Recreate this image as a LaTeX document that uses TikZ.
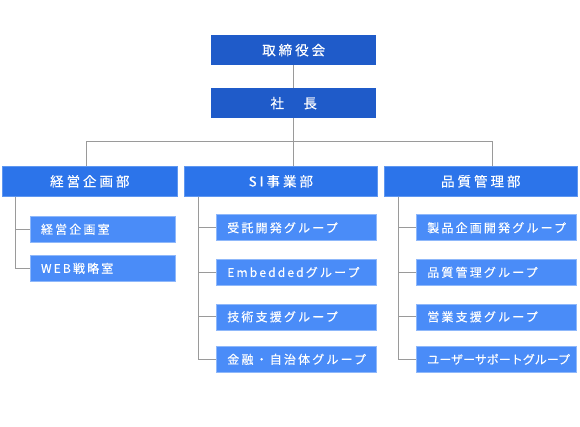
\documentclass[tikz,border=0pt]{standalone}
\usepackage{fontspec}
\usepackage{xcolor}
\usepackage{tikz}
\usetikzlibrary{calc,positioning}
\newfontfamily\jpwide{Noto Sans CJK JP}[LetterSpace=22,FakeBold=0.3]
\newfontfamily\jpnarrow{Noto Sans CJK JP}[LetterSpace=18,FakeBold=0.3]
\newfontfamily\jptight{Noto Sans CJK JP}[LetterSpace=0,FakeBold=0.3]
\definecolor{topblue}{HTML}{1F5BC9}
\definecolor{deptblue}{HTML}{2C74EA}
\definecolor{deptedge}{HTML}{5F97F0}
\definecolor{subblue}{HTML}{4A8CF8}
\definecolor{subedge}{HTML}{8FB8FA}
\definecolor{linegray}{HTML}{9A9A9A}

\begin{document}
\begin{tikzpicture}[x=1pt,y=-1pt,
    topbox/.style={fill=topblue,anchor=north west,minimum width=165pt,minimum height=30pt,
      inner sep=0pt,text=white,font=\jpwide\fontsize{13.5}{14}\selectfont},
    deptbox/.style={fill=deptblue,draw=deptedge,line width=0.6pt,anchor=north west,
      minimum width=#1,minimum height=30pt,inner sep=0pt,text=white,
      font=\jpwide\fontsize{13.5}{14}\selectfont},
    subbox/.style={fill=subblue,draw=subedge,line width=0.6pt,anchor=north west,
      text width=#1,minimum height=26pt,inner xsep=11pt,inner ysep=0pt,align=left,
      text=white,font=\jpnarrow\fontsize{12}{13}\selectfont},
    subbox/.default=138pt,
    conn/.style={draw=linegray,line width=1pt}]
  \useasboundingbox (0,0) rectangle (580,427);

  % top
  \node[topbox] (board) at (211,35) {取締役会};
  \node[topbox] (pres) at (211,88) {社　長};

  % departments
  \node[deptbox=175pt] (keiei) at (2,166) {経営企画部};
  \node[deptbox=193pt] (si) at (184,166) {SI事業部};
  \node[deptbox=193pt] (qa) at (384,166) {品質管理部};

  % groups
  \foreach \n/\y/\lab in {1/216/経営企画室, 2/255/WEB戦略室}
  { \node[subbox=123pt] (keiei\n) at (29.7,\y) {\lab}; }
  \foreach \n/\y/\lab in {1/214.5/受託開発グループ, 2/259/Embeddedグループ,
      3/303.5/技術支援グループ, 4/346/金融・自治体グループ}
  { \node[subbox] (si\n) at (216,\y) {\lab}; }
  \foreach \n/\y/\lab in {1/214.5/製品企画開発グループ, 2/259/品質管理グループ,
      3/303.5/営業支援グループ, 4/346/{\jptight ユーザーサポートグループ}}
  { \node[subbox] (qa\n) at (416,\y) {\lab}; }

  % connectors
  \coordinate (busA) at (86.3,141.7);
  \coordinate (busC) at (492.7,141.7);
  \draw[conn] (board) -- (pres);
  \draw[conn] (pres.south) -- (pres.south |- si.north);
  \draw[conn] (busA) -- (busC);
  \draw[conn] (busA) -- (busA |- keiei.north);
  \draw[conn] (busC) -- (busC |- qa.north);

  \coordinate (trunkA) at ([xshift=13.3pt]keiei.south west);
  \coordinate (trunkB) at ([xshift=14.7pt]si.south west);
  \coordinate (trunkC) at ([xshift=14.7pt]qa.south west);
  \foreach \n in {1,2}
  { \draw[conn] (trunkA) |- (keiei\n.west); }
  \foreach \n in {1,...,4}
  { \draw[conn] (trunkB) |- (si\n.west);
    \draw[conn] (trunkC) |- (qa\n.west); }
\end{tikzpicture}
\end{document}
